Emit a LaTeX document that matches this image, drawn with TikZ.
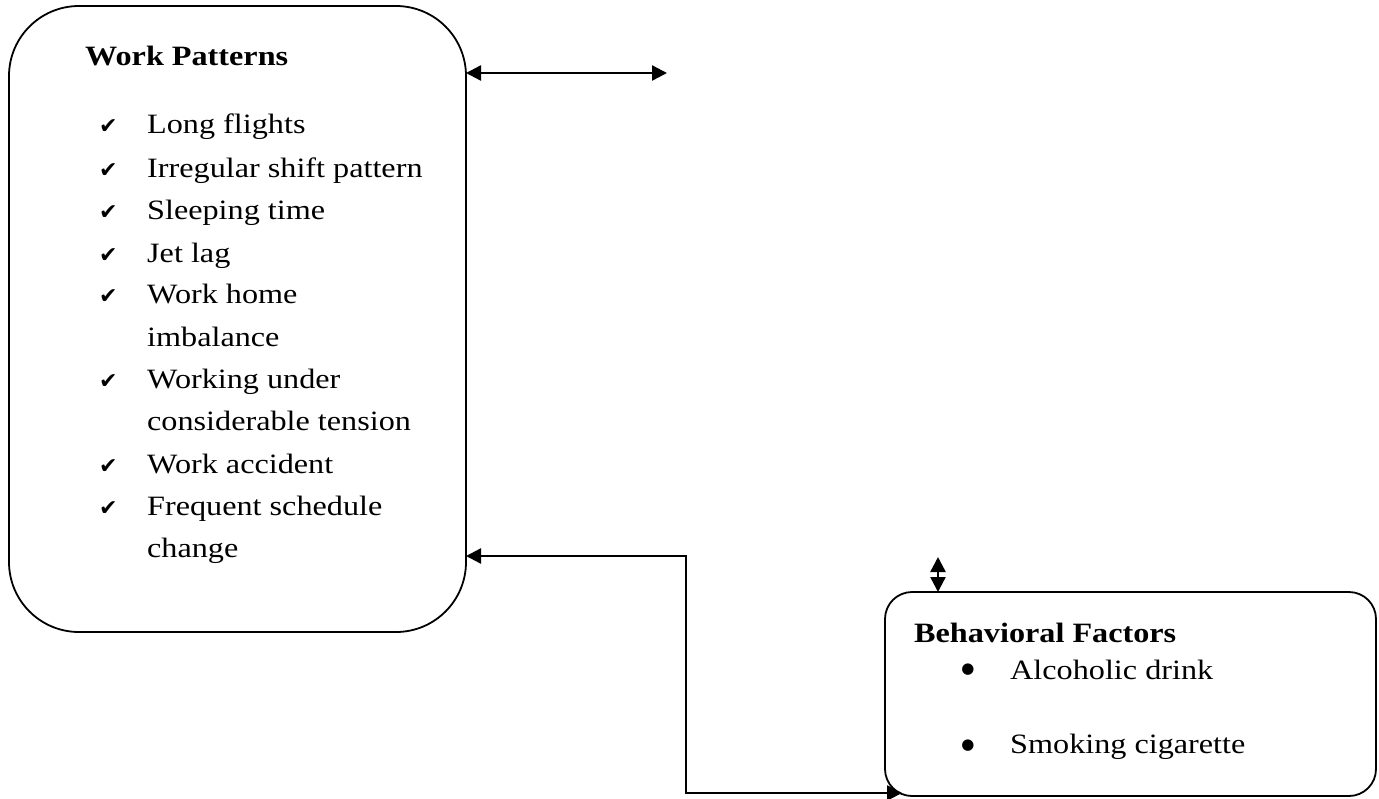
\documentclass[tikz,border=0pt]{standalone}
\usepackage{fontspec}
\setmainfont{Liberation Serif}[FakeStretch=1.15]
\newfontfamily\symfont{DejaVu Sans}
\usetikzlibrary{arrows.meta}

\tikzset{
  panel/.style={draw=black, line width=1.8pt, fill=none, inner sep=0pt, outer sep=0pt},
  link/.style={line width=2.4pt, {Triangle[length=15pt,width=15pt]}-{Triangle[length=15pt,width=15pt]}},
  txt/.style={anchor=base west, inner sep=0pt, font=\fontsize{28}{33}\selectfont},
  head/.style={txt, font=\fontsize{28}{33}\selectfont\bfseries},
  tick/.style={anchor=base west, inner sep=0pt, font=\symfont\fontsize{22}{25}\selectfont},
  dot/.style={anchor=center, inner sep=0pt, font=\symfont\fontsize{15}{18}\selectfont}
}

\begin{document}
\begin{tikzpicture}[x=1pt, y=-1pt]
\useasboundingbox (0,0) rectangle (1379,798);

% the two panels
\node[panel, minimum width=457pt, minimum height=626pt, rounded corners=70pt] (wp) at (237.5,319) {};
\node[panel, minimum width=491pt, minimum height=204pt, rounded corners=27pt] (bf) at (1130.5,694) {};

% work patterns list
\node[head] (wpt) at (85,65) {Work Patterns};
\foreach \name/\y/\t in {l1/133/Long flights, l2/177/Irregular shift pattern, l3/219/Sleeping time, l4/262/Jet lag, l5/303/Work home, l7/388/Working under, l9/473/Work accident, l10/515/Frequent schedule}{
  \node[tick] (c\name) at (99,\y) {✔};
  \node[txt] (\name) at (147,\y) {\t};
}
\node[txt] (l6) at (147,346) {imbalance};
\node[txt] (l8) at (147,430) {considerable tension};
\node[txt] (l11) at (147,557) {change};

% behavioral factors list
\node[head] (bft) at (914,642) {Behavioral Factors};
\node[dot] (b1) at (968,670) {●};
\node[txt] (i1) at (1010,679) {Alcoholic drink};
\node[dot] (b2) at (968,746) {●};
\node[txt] (i2) at (1010,753) {Smoking cigarette};

% connectors
\coordinate (topend) at (667,73);
\coordinate (bend) at (686,556);
\coordinate (lowend) at (902,793);
\coordinate (stub) at (938,557);
\draw[link] (wp.east |- topend) -- (topend);
\draw[link] (wp.east |- bend) -- (bend) |- (lowend);
\draw[link] (stub) -- (bf.north -| stub);
\end{tikzpicture}
\end{document}
